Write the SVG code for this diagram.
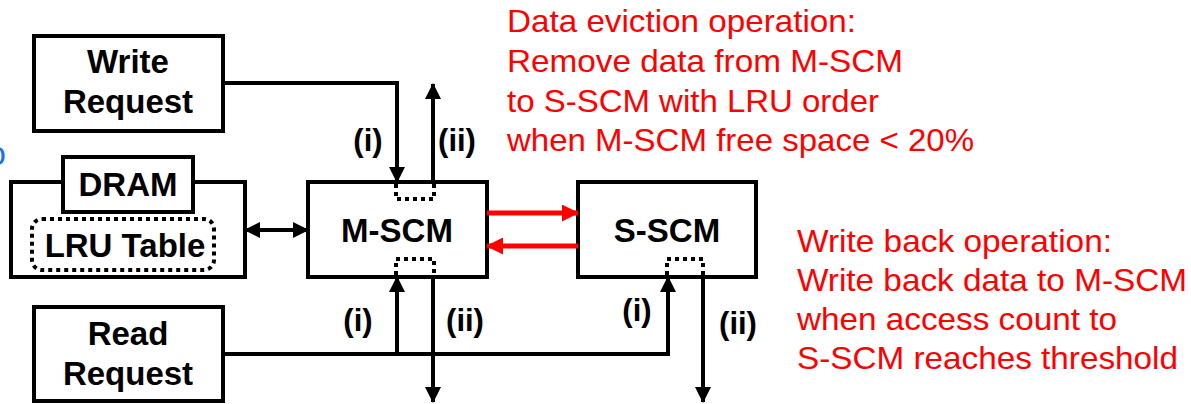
<svg xmlns="http://www.w3.org/2000/svg" width="1191" height="404" viewBox="0 0 1191 404">
<style>
.box{fill:#fff;stroke:#000;stroke-width:4}
.lbl{font-family:"Liberation Sans",Arial,sans-serif;font-weight:bold;font-size:33px;fill:#000;text-anchor:middle}
.num{font-family:"Liberation Sans",Arial,sans-serif;font-weight:bold;font-size:31px;fill:#000;text-anchor:middle}
.red{font-family:"Liberation Sans",Arial,sans-serif;font-size:32px;fill:#ff0000}
.ln{fill:none;stroke:#000;stroke-width:4}
.rl{fill:none;stroke:#ff0000;stroke-width:5}
.dot{fill:none;stroke:#000;stroke-width:4;stroke-dasharray:4 4}
</style>
<defs>
<marker id="ah" markerUnits="userSpaceOnUse" markerWidth="16" markerHeight="16" viewBox="0 0 16 16" refX="15" refY="8" orient="auto-start-reverse">
<path d="M0,0 L16,8 L0,16 Z" fill="#000"/>
</marker>
<marker id="rh" markerUnits="userSpaceOnUse" markerWidth="17" markerHeight="17" viewBox="0 0 17 17" refX="16" refY="8.5" orient="auto">
<path d="M0,0 L17,8.5 L0,17 Z" fill="#ff0000"/>
</marker>
</defs>

<text x="-13" y="165" font-family="Liberation Sans, Arial, sans-serif" font-size="34" fill="#1a73e8">o</text>

<g id="write-request">
<rect class="box" x="34" y="36" width="189" height="95"/>
<text class="lbl" x="128" y="73">Write</text>
<text class="lbl" x="128" y="113">Request</text>
</g>

<g id="dram">
<rect class="box" x="11" y="182" width="234" height="95"/>
<rect class="box" x="63" y="157" width="130" height="55"/>
<text class="lbl" x="128" y="196">DRAM</text>
<rect x="32" y="219" width="182" height="51" rx="10" fill="none" stroke="#000" stroke-width="4" stroke-dasharray="4 4"/>
<text class="lbl" x="125" y="257">LRU Table</text>
</g>

<g id="m-scm">
<rect class="box" x="308" y="182" width="179" height="95"/>
<text class="lbl" x="397" y="242">M-SCM</text>
<path class="dot" d="M396,184 V199 H434 V184"/>
<path class="dot" d="M396,275 V259 H434 V275"/>
</g>

<g id="s-scm">
<rect class="box" x="578" y="182" width="178" height="95"/>
<text class="lbl" x="667" y="242">S-SCM</text>
<path class="dot" d="M667,275 V259 H703 V275"/>
</g>

<g id="read-request">
<rect class="box" x="34" y="307" width="189" height="94"/>
<text class="lbl" x="128" y="345">Read</text>
<text class="lbl" x="128" y="385">Request</text>
</g>

<g id="connectors">
<path class="ln" d="M223,83 H397 V182" marker-end="url(#ah)"/>
<path class="ln" d="M433,182 V84" marker-end="url(#ah)"/>
<path class="ln" d="M245,230 H308" marker-start="url(#ah)" marker-end="url(#ah)"/>
<path class="ln" d="M223,354 H668 V277" marker-end="url(#ah)"/>
<path class="ln" d="M397,354 V277" marker-end="url(#ah)"/>
<path class="ln" d="M433,277 V402" marker-end="url(#ah)"/>
<path class="ln" d="M703,277 V402" marker-end="url(#ah)"/>
<path class="rl" d="M487,213 H578" marker-end="url(#rh)"/>
<path class="rl" d="M578,246 H487" marker-end="url(#rh)"/>
<text class="num" x="368" y="151">(i)</text>
<text class="num" x="457" y="151">(ii)</text>
<text class="num" x="358" y="331">(i)</text>
<text class="num" x="465" y="331">(ii)</text>
<text class="num" x="637" y="321">(i)</text>
<text class="num" x="738" y="334">(ii)</text>
</g>

<g id="eviction-note">
<text class="red" x="507" y="32" textLength="349" lengthAdjust="spacingAndGlyphs">Data eviction operation:</text>
<text class="red" x="507" y="72" textLength="396" lengthAdjust="spacingAndGlyphs">Remove data from M-SCM</text>
<text class="red" x="507" y="112" textLength="372" lengthAdjust="spacingAndGlyphs">to S-SCM with LRU order</text>
<text class="red" x="507" y="151" textLength="467" lengthAdjust="spacingAndGlyphs">when M-SCM free space &lt; 20%</text>
</g>

<g id="writeback-note">
<text class="red" x="797" y="252" textLength="315" lengthAdjust="spacingAndGlyphs">Write back operation:</text>
<text class="red" x="797" y="291" textLength="390" lengthAdjust="spacingAndGlyphs">Write back data to M-SCM</text>
<text class="red" x="797" y="330" textLength="320" lengthAdjust="spacingAndGlyphs">when access count to</text>
<text class="red" x="797" y="369" textLength="381" lengthAdjust="spacingAndGlyphs">S-SCM reaches threshold</text>
</g>
</svg>
